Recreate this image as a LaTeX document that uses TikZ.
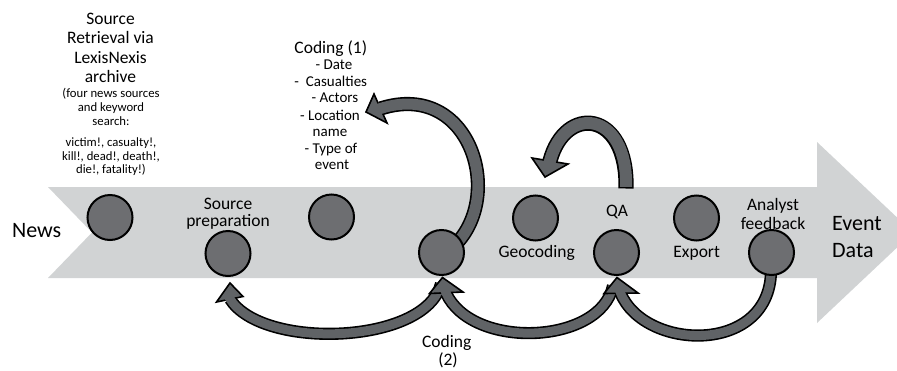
\documentclass[tikz,border=0pt]{standalone}
\usepackage{fontspec}
\setmainfont{Carlito}
\usetikzlibrary{backgrounds}
\definecolor{bandgrey}{HTML}{D1D3D4}
\definecolor{circgrey}{HTML}{6D6E71}
\definecolor{arrgrey}{HTML}{606366}
\tikzset{
  bandshape/.style={fill=bandgrey, draw=none},
  stepcirc/.style={circle, draw=black, line width=2pt, fill=circgrey, minimum size=45pt, inner sep=0pt},
  lbl/.style={anchor=base, inner sep=0pt, font=\fontsize{17.5}{20}\selectfont},
  biglbl/.style={anchor=base, inner sep=0pt, font=\fontsize{22}{26}\selectfont},
  smalllbl/.style={anchor=base, inner sep=0pt, font=\fontsize{12.7}{14}\selectfont},
  listlbl/.style={anchor=base, inner sep=0pt, font=\fontsize{15}{17}\selectfont},
  arrhead/.style={fill=arrgrey, draw=black, line width=1.6pt, line join=miter},
}
% #1 inner width, #2 outer width, #3 shaft path, #4 extension, #5 head polygon, #6 extra options
\newcommand\blockarc[6]{%
  \draw[line width=#2, black] #3;
  \filldraw[arrhead] #5 -- cycle;
  \draw[line width=#1, arrgrey, #6] #3 -- ++#4;
}
\begin{document}
\begin{tikzpicture}[x=1pt,y=-1pt]
\useasboundingbox (0,0) rectangle (897,370);
\clip (0,0) rectangle (897,370);

% circles (main layer)
\node[stepcirc] (c1) at (110,217.5) {};
\node[stepcirc] (c2) at (228,253.5) {};
\node[stepcirc] (c3) at (331.5,217) {};
\node[stepcirc] (c4) at (441.5,252.5) {};
\node[stepcirc] (c5) at (535.5,218) {};
\node[stepcirc] (c6) at (616.5,252.5) {};
\node[stepcirc] (c7) at (696.5,218) {};
\node[stepcirc] (c8) at (771.5,252.5) {};

% arrow end points
\coordinate (a1s) at (441,284);   \coordinate (a1e) at (230,299);
\coordinate (a2s) at (613,286);   \coordinate (a2e) at (446,293);
\coordinate (a3s) at (771,268);   \coordinate (a3e) at (620.5,293);
\coordinate (b1s) at (455,245);   \coordinate (b1e) at (380.5,108.5);
\coordinate (lps) at (626,188.5); \coordinate (lpe) at (550,161);

\begin{scope}[on background layer]
  % band
  \fill[bandshape] (48,187) -- (817,187) -- (817,142) -- (913,232.5) -- (817,323)
     -- (817,278) -- (48,278) -- (92,232.5) -- cycle;
  % bottom arcs
  \blockarc{9pt}{12.2pt}{(a1s) .. controls (425,345) and (262,350) .. (a1e)}{(-1.5,-2.6)}
     {(230,283) -- (216.5,302) -- (243,296.5)}{}
  \blockarc{9pt}{12.2pt}{(a2s) .. controls (600,345) and (472,350) .. (a2e)}{(-1.2,-2.7)}
     {(442.5,277.5) -- (429.5,293.5) -- (463,292)}{}
  \blockarc{9pt}{12.2pt}{(a3s) .. controls (773,355) and (645,352) .. (a3e)}{(-1.1,-2.8)}
     {(617,277.5) -- (604,293.5) -- (638,293)}{}
  % big arc to Coding (1)
  \blockarc{11pt}{14.2pt}{(b1s) .. controls (505,195) and (470,80) .. (b1e)}{(-2.9,0.9)}
     {(366,112) -- (374,94) -- (387,123)}{}
  % QA loop
  \blockarc{12pt}{15.2pt}{(lps) .. controls (628,110) and (565,104) .. (lpe)}{(-0.8,2.9)}
     {(545,177) -- (532,158) -- (568,164)}{shorten <=1.6pt}
\end{scope}

% top-left text
\node[lbl] (s1) at (110.5,24) {Source};
\node[lbl] (s2) at (110.5,43.5) {Retrieval via};
\node[lbl] (s3) at (110.5,63.2) {LexisNexis};
\node[lbl] (s4) at (110.5,82.8) {archive};
\node[smalllbl] (k1) at (111,97.5) {(four news sources};
\node[smalllbl] (k2) at (111,111.5) {and keyword};
\node[smalllbl] (k3) at (111,125.5) {search:};
\node[smalllbl] (k4) at (111,146.7) {victim!, casualty!,};
\node[smalllbl] (k5) at (111,160) {kill!, dead!, death!,};
\node[smalllbl] (k6) at (111,173.3) {die!, fatality!)};

% Coding (1)
\node[lbl] (cd1) at (330.8,53.3) {Coding (1)};
\node[listlbl] (l1) at (334,69.3) {- Date};
\node[listlbl] (l2) at (330.8,86) {- \ Casualties};
\node[listlbl] (l3) at (335,102.7) {- Actors};
\node[listlbl] (l4) at (330,120) {- Location};
\node[listlbl] (l5) at (330,136.5) {name};
\node[listlbl] (l6) at (331,153) {- Type of};
\node[listlbl] (l7) at (332,169.3) {event};

% band labels
\node[biglbl] (news) at (36.7,237.3) {News};
\node[biglbl, anchor=base west] (ev1) at (832,230) {Event};
\node[biglbl, anchor=base west] (ev2) at (832,257.3) {Data};
\node[lbl] (sp1) at (228,209.5) {Source};
\node[lbl] (sp2) at (228,226.3) {preparation};
\node[lbl] (geo) at (536.7,257.3) {Geocoding};
\node[lbl] (qa) at (617,216) {QA};
\node[lbl] (exp) at (696.7,257.3) {Export};
\node[lbl] (an1) at (773,210.7) {Analyst};
\node[lbl] (an2) at (773,229) {feedback};
\node[lbl] (cd2a) at (446.7,347.7) {Coding};
\node[lbl] (cd2b) at (448,365.7) {(2)};
\end{tikzpicture}
\end{document}
